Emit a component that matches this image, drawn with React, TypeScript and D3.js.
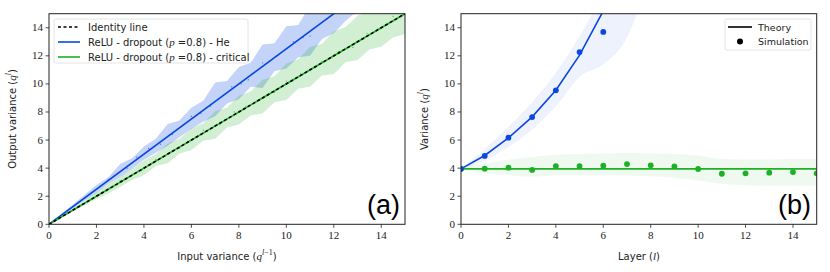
import React from 'react';
import * as d3 from 'd3';

const W = 830;
const H = 272;

const BLUE = '#0a47e0';
const GREEN = '#1cb025';

// ---- panel (a) data ----
const inputVar = [0, 0.5, 1, 1.5, 2, 2.5, 3, 3.5, 4, 4.5, 5, 5.5, 6, 6.5, 7, 7.5, 8, 8.5, 9, 9.5, 10, 10.5, 11, 11.5, 12, 12.5, 13, 13.5, 14, 14.5, 15];
const heUpper = [0, 0.7, 1.4, 2.1, 2.8, 3.35, 4.3, 4.7, 5.55, 6.1, 7.15, 7.4, 8.3, 8.8, 10.1, 10.2, 11.2, 11.5, 12.8, 12.9, 14.1, 14.2, 15.6, 15.8, 17.0, 17.4, 18.3, 18.8, 19.6, 20.2, 21.0];
const heLower = [0, 0.55, 1.12, 1.7, 2.2, 2.9, 3.35, 3.95, 4.6, 5.1, 5.6, 6.2, 6.8, 7.3, 7.7, 8.6, 8.9, 9.8, 9.7, 10.9, 11.1, 11.9, 12.0, 13.2, 13.6, 14.5, 15.2, 16.0, 16.6, 17.3, 18.0];
const critUpper = [0, 0.56, 1.12, 1.7, 2.22, 2.9, 3.35, 3.95, 4.55, 5.0, 5.75, 6.1, 6.85, 7.2, 8.05, 8.3, 9.15, 9.45, 10.3, 10.55, 11.45, 11.75, 12.65, 12.85, 13.75, 14.05, 14.85, 15.15, 15.9, 16.2, 16.9];
const critLower = [0, 0.45, 0.92, 1.35, 1.8, 2.2, 2.65, 3.15, 3.5, 4.15, 4.35, 5.05, 5.3, 5.95, 6.1, 6.9, 7.1, 7.75, 7.9, 8.7, 8.85, 9.65, 9.8, 10.6, 10.7, 11.55, 11.7, 12.45, 12.65, 13.3, 13.55];
const identityX = [0, 15];
const identityY = [0, 15];
const heLineY = [0, 18.75];
const critLineY = [0, 15];
const heSimX = [2.5, 3.3, 3.7, 4.2, 4.7, 5.2, 6.0, 6.4, 6.8, 7.7, 8.1, 8.4, 9.0, 9.6, 10.3, 10.7, 11.0, 11.7];
const heSimY = [3.2, 4.0, 4.8, 5.4, 5.7, 6.4, 7.7, 7.9, 8.4, 9.8, 10.0, 10.3, 11.5, 12.0, 13.0, 13.3, 13.4, 14.6];
const critSimX = [3.0, 4.5, 5.5, 6.5, 7.2, 7.8, 8.3, 9.5, 10.0, 10.6, 11.5, 12.2, 12.8, 13.4, 14.5];
const critSimY = [3.1, 4.6, 5.4, 6.7, 7.1, 8.0, 8.4, 9.4, 10.2, 10.7, 11.6, 12.3, 12.6, 13.6, 14.8];

// ---- panel (b) data ----
const layers = [0, 1, 2, 3, 4, 5, 6, 7, 8, 9, 10, 11, 12, 13, 14, 15];
const heTheory = [3.95, 4.9, 6.15, 7.65, 9.55, 12.05, 15.2, 19.0];
const heSim = [3.95, 4.87, 6.17, 7.64, 9.54, 12.27, 13.7];
const heBandUp = [3.95, 5.35, 6.95, 8.7, 10.8, 13.4, 16.5, 20.0, 24.0];
const heBandLo = [3.95, 4.55, 5.5, 6.75, 8.4, 10.5, 11.4, 13.3, 18.0];
const critTheory = [3.95, 3.95, 3.95, 3.95, 3.95, 3.95, 3.95, 3.95, 3.95, 3.95, 3.95, 3.95, 3.95, 3.95, 3.95, 3.95];
const critSim = [3.95, 3.96, 4.03, 3.87, 4.15, 4.15, 4.17, 4.29, 4.2, 4.13, 3.94, 3.6, 3.63, 3.68, 3.72, 3.63];
const critBandUp = [4.15, 4.35, 4.6, 4.8, 4.95, 5.0, 5.05, 5.08, 5.05, 5.0, 4.9, 4.65, 4.62, 4.62, 4.65, 4.65];
const critBandLo = [3.85, 3.65, 3.5, 3.4, 3.5, 3.5, 3.5, 3.48, 3.42, 3.32, 3.12, 2.88, 2.78, 2.75, 2.75, 2.75];

const ticks = [0, 2, 4, 6, 8, 10, 12, 14];

const Y0 = 224.3;
const Y1 = 13.7;

const serif = 'Liberation Serif, serif';
const sans = 'DejaVu Sans, sans-serif';

function Frame({ x, y }: { x: d3.ScaleLinear<number, number>; y: d3.ScaleLinear<number, number> }) {
  const [xa, xb] = x.range();
  return (
    <g>
      {ticks.map((t) => (
        <g key={'x' + t}>
          <line x1={x(t)} x2={x(t)} y1={Y0} y2={Y0 + 3.5} stroke="#222" strokeWidth={0.8} />
          <text x={x(t)} y={Y0 + 15} textAnchor="middle" fontFamily={serif} fontSize={11} fill="#222">{t}</text>
        </g>
      ))}
      {ticks.map((t) => (
        <g key={'y' + t}>
          <line x1={xa - 3.5} x2={xa} y1={y(t)} y2={y(t)} stroke="#222" strokeWidth={0.8} />
          <text x={xa - 6} y={y(t) + 3.5} textAnchor="end" fontFamily={serif} fontSize={11} fill="#222">{t}</text>
        </g>
      ))}
      <rect x={xa} y={Y1} width={xb - xa} height={Y0 - Y1} fill="none" stroke="#222" strokeWidth={1} />
    </g>
  );
}

export default function App() {
  const xa = d3.scaleLinear().domain([0, 15]).range([49, 405]);
  const xb = d3.scaleLinear().domain([0, 15]).range([461, 816.7]);
  const y = d3.scaleLinear().domain([0, 15]).range([Y0, Y1]);

  const areaA = (up: number[], lo: number[]) =>
    d3.area<number>().x((d, i) => xa(inputVar[i])).y0((d, i) => y(lo[i])).y1((d) => y(d))(up) || '';
  const areaB = (up: number[], lo: number[]) =>
    d3.area<number>().x((d, i) => xb(layers[i])).y0((d, i) => y(lo[i])).y1((d) => y(d)).curve(d3.curveMonotoneX)(up) || '';
  const lineA = (xs: number[], ys: number[]) =>
    d3.line<number>().x((d, i) => xa(xs[i])).y((d) => y(d))(ys) || '';
  const lineB = (ys: number[]) =>
    d3.line<number>().x((d, i) => xb(layers[i])).y((d) => y(d))(ys) || '';

  return (
    <svg width={W} height={H} style={{ position: 'absolute', left: 0, top: 0, background: '#fff' }}>
      <defs>
        <clipPath id="clipA"><rect x={49} y={Y1} width={356} height={Y0 - Y1} /></clipPath>
        <clipPath id="clipB"><rect x={461} y={Y1} width={355.7} height={Y0 - Y1} /></clipPath>
      </defs>

      {/* panel (a) */}
      <g clipPath="url(#clipA)">
        <path d={areaA(heUpper, heLower)} fill={BLUE} fillOpacity={0.24} />
        <path d={areaA(critUpper, critLower)} fill={GREEN} fillOpacity={0.2} />
        {heSimX.map((v, i) => (
          <circle key={'hs' + i} cx={xa(v)} cy={y(heSimY[i])} r={0.7} fill={BLUE} fillOpacity={0.6} />
        ))}
        {critSimX.map((v, i) => (
          <circle key={'cs' + i} cx={xa(v)} cy={y(critSimY[i])} r={0.7} fill={GREEN} fillOpacity={0.7} />
        ))}
        <path d={lineA(identityX, heLineY)} stroke={BLUE} strokeWidth={1.6} fill="none" />
        <path d={lineA(identityX, critLineY)} stroke={GREEN} strokeWidth={1.6} fill="none" />
        <path d={lineA(identityX, identityY)} stroke="#000" strokeWidth={1.6} strokeDasharray="3,2.5" fill="none" />
      </g>
      <Frame x={xa} y={y} />
      <text x={400} y={214} textAnchor="end" fontFamily="Liberation Sans, sans-serif" fontSize={27} fill="#000">(a)</text>
      <text x={227} y={260} textAnchor="middle" fontFamily={sans} fontSize={10} fill="#222">
        Input variance (<tspan fontFamily={serif} fontStyle="italic" fontSize={11}>q</tspan>
        <tspan fontFamily={serif} fontStyle="italic" fontSize={8} dy={-5}>l</tspan>
        <tspan fontFamily={serif} fontSize={8}>−1</tspan>
        <tspan dy={5}>)</tspan>
      </text>
      <text transform={`translate(16,${(Y0 + Y1) / 2}) rotate(-90)`} textAnchor="middle" fontFamily={sans} fontSize={10} fill="#222">
        Output variance (<tspan fontFamily={serif} fontStyle="italic" fontSize={11}>q</tspan>
        <tspan fontFamily={serif} fontStyle="italic" fontSize={8} dy={-5}>l</tspan>
        <tspan dy={5}>)</tspan>
      </text>
      {/* legend (a) */}
      <g>
        <rect x={54} y={19} width={194} height={44} rx={2} fill="#fff" fillOpacity={0.85} stroke="#ddd" strokeWidth={0.8} />
        <line x1={58} x2={80} y1={27} y2={27} stroke="#000" strokeWidth={1.6} strokeDasharray="3,2.5" />
        <line x1={58} x2={80} y1={42} y2={42} stroke={BLUE} strokeWidth={1.6} />
        <line x1={58} x2={80} y1={57} y2={57} stroke={GREEN} strokeWidth={1.6} />
        <text x={88} y={30.5} fontFamily={sans} fontSize={10} fill="#222">Identity line</text>
        <text x={88} y={45.5} fontFamily={sans} fontSize={10} fill="#222">
          ReLU - dropout (<tspan fontFamily={serif} fontStyle="italic" fontSize={11}>p</tspan> =0.8) - He
        </text>
        <text x={88} y={60.5} fontFamily={sans} fontSize={10} fill="#222">
          ReLU - dropout (<tspan fontFamily={serif} fontStyle="italic" fontSize={11}>p</tspan> =0.8) - critical
        </text>
      </g>

      {/* panel (b) */}
      <g clipPath="url(#clipB)">
        <path d={areaB(heBandUp, heBandLo)} fill={BLUE} fillOpacity={0.07} />
        <path d={areaB(critBandUp, critBandLo)} fill={GREEN} fillOpacity={0.07} />
        <path d={lineB(critTheory)} stroke={GREEN} strokeWidth={1.6} fill="none" />
        <path d={lineB(heTheory)} stroke={BLUE} strokeWidth={1.6} fill="none" />
        {critSim.map((v, i) => (
          <circle key={'gb' + i} cx={xb(layers[i])} cy={y(v)} r={2.9} fill={GREEN} />
        ))}
        {heSim.map((v, i) => (
          <circle key={'bb' + i} cx={xb(layers[i])} cy={y(v)} r={2.9} fill={BLUE} />
        ))}
      </g>
      <Frame x={xb} y={y} />
      <text x={811} y={214} textAnchor="end" fontFamily="Liberation Sans, sans-serif" fontSize={27} fill="#000">(b)</text>
      <text x={639} y={260} textAnchor="middle" fontFamily={sans} fontSize={10} fill="#222">
        Layer (<tspan fontFamily={serif} fontStyle="italic" fontSize={11}>l</tspan>)
      </text>
      <text transform={`translate(428,${(Y0 + Y1) / 2}) rotate(-90)`} textAnchor="middle" fontFamily={sans} fontSize={10} fill="#222">
        Variance (<tspan fontFamily={serif} fontStyle="italic" fontSize={11}>q</tspan>
        <tspan fontFamily={serif} fontStyle="italic" fontSize={8} dy={-5}>l</tspan>
        <tspan dy={5}>)</tspan>
      </text>
      {/* legend (b) */}
      <g>
        <rect x={725} y={19} width={86} height={31} rx={2} fill="#fff" fillOpacity={0.85} stroke="#ddd" strokeWidth={0.8} />
        <line x1={728} x2={752} y1={27} y2={27} stroke="#000" strokeWidth={1.6} />
        <circle cx={740} cy={41.5} r={3} fill="#000" />
        <text x={758} y={30.5} fontFamily={sans} fontSize={9.5} fill="#222">Theory</text>
        <text x={758} y={45} fontFamily={sans} fontSize={9.5} fill="#222">Simulation</text>
      </g>
    </svg>
  );
}
